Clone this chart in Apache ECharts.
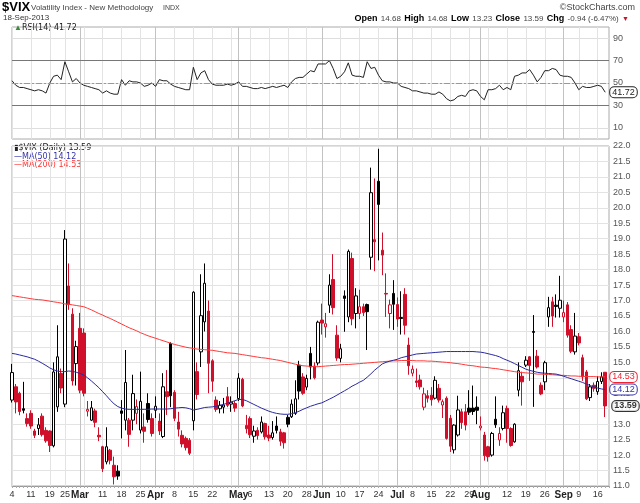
<!DOCTYPE html>
<html><head><meta charset="utf-8">
<script src="https://cdn.jsdelivr.net/npm/echarts@6/dist/echarts.min.js"></script>
<style>html,body{margin:0;padding:0;background:#fff}#c{width:640px;height:503px}</style>
</head><body><div id="c"></div>
<script>
const dates = [
'2013-02-04','2013-02-05','2013-02-06','2013-02-07','2013-02-08','2013-02-11','2013-02-12','2013-02-13','2013-02-14','2013-02-15','2013-02-19','2013-02-20','2013-02-21','2013-02-22','2013-02-25','2013-02-26','2013-02-27','2013-02-28',
'2013-03-01','2013-03-04','2013-03-05','2013-03-06','2013-03-07','2013-03-08','2013-03-11','2013-03-12','2013-03-13','2013-03-14','2013-03-15','2013-03-18','2013-03-19','2013-03-20','2013-03-21','2013-03-22','2013-03-25','2013-03-26','2013-03-27','2013-03-28',
'2013-04-01','2013-04-02','2013-04-03','2013-04-04','2013-04-05','2013-04-08','2013-04-09','2013-04-10','2013-04-11','2013-04-12','2013-04-15','2013-04-16','2013-04-17','2013-04-18','2013-04-19','2013-04-22','2013-04-23','2013-04-24','2013-04-25','2013-04-26','2013-04-29','2013-04-30',
'2013-05-01','2013-05-02','2013-05-03','2013-05-06','2013-05-07','2013-05-08','2013-05-09','2013-05-10','2013-05-13','2013-05-14','2013-05-15','2013-05-16','2013-05-17','2013-05-20','2013-05-21','2013-05-22','2013-05-23','2013-05-24','2013-05-28','2013-05-29','2013-05-30','2013-05-31',
'2013-06-03','2013-06-04','2013-06-05','2013-06-06','2013-06-07','2013-06-10','2013-06-11','2013-06-12','2013-06-13','2013-06-14','2013-06-17','2013-06-18','2013-06-19','2013-06-20','2013-06-21','2013-06-24','2013-06-25','2013-06-26','2013-06-27','2013-06-28',
'2013-07-01','2013-07-02','2013-07-03','2013-07-05','2013-07-08','2013-07-09','2013-07-10','2013-07-11','2013-07-12','2013-07-15','2013-07-16','2013-07-17','2013-07-18','2013-07-19','2013-07-22','2013-07-23','2013-07-24','2013-07-25','2013-07-26','2013-07-29','2013-07-30','2013-07-31',
'2013-08-01','2013-08-02','2013-08-05','2013-08-06','2013-08-07','2013-08-08','2013-08-09','2013-08-12','2013-08-13','2013-08-14','2013-08-15','2013-08-16','2013-08-19','2013-08-20','2013-08-21','2013-08-22','2013-08-23','2013-08-26','2013-08-27','2013-08-28','2013-08-29','2013-08-30',
'2013-09-03','2013-09-04','2013-09-05','2013-09-06','2013-09-09','2013-09-10','2013-09-11','2013-09-12','2013-09-13','2013-09-16','2013-09-17','2013-09-18'];

// [open, close, low, high]
const ohlc = [
[13.78,14.67,13.70,14.95],[14.21,13.72,13.35,14.30],[14.00,13.41,13.29,14.05],[13.50,13.45,13.35,14.37],[13.18,13.02,12.92,13.35],
[13.35,12.94,12.85,13.45],[12.78,12.64,12.55,12.85],[12.86,12.98,12.65,13.20],[13.26,12.66,12.60,13.35],[12.80,12.46,12.40,12.90],
[12.78,12.31,12.10,12.80],[12.30,14.69,12.25,15.00],[13.56,15.18,13.40,16.20],[14.64,14.17,14.00,14.80],[13.65,18.99,13.55,19.28],
[17.47,16.87,16.70,18.20],[16.56,14.40,14.25,16.75],[14.96,15.51,14.25,15.70],[16.10,14.10,14.00,16.60],[15.95,14.00,13.90,16.10],
[13.42,13.48,13.25,13.75],[13.13,13.53,13.10,13.75],[13.43,13.06,12.90,13.50],[12.64,12.59,12.45,12.90],[12.27,11.56,11.45,12.30],
[11.78,12.27,11.70,12.90],[12.16,11.83,11.70,12.20],[11.67,11.30,11.05,11.95],[11.48,11.32,11.20,11.67],[13.43,13.35,12.54,13.78],
[13.13,14.35,12.80,15.40],[13.13,12.67,12.27,13.20],[13.13,13.99,12.80,14.60],[13.35,13.57,13.00,13.80],[12.81,13.74,12.70,14.70],
[12.91,12.77,12.40,13.35],[13.67,13.15,13.05,14.00],[13.18,12.70,12.60,13.35],[13.45,13.58,13.20,13.90],[13.10,12.78,12.65,13.35],
[12.60,14.21,12.55,14.65],[14.05,13.89,13.30,14.75],[15.61,13.92,13.55,15.65],[14.03,13.19,13.10,14.10],[13.07,12.84,12.60,13.40],
[12.64,12.36,12.25,12.80],[12.54,12.24,12.15,12.60],[12.48,12.06,12.00,12.55],[13.11,17.27,12.80,17.30],[14.70,13.96,13.80,15.00],
[15.34,16.51,14.85,17.85],[16.31,17.56,16.00,18.20],[16.66,14.97,14.00,17.00],[15.05,14.39,14.05,15.10],[13.78,13.48,13.40,13.90],
[13.50,13.61,13.35,13.75],[13.55,13.62,13.35,13.85],[13.89,13.61,13.55,14.20],[13.65,13.71,13.40,13.90],[13.67,13.52,13.40,13.75],
[13.83,14.49,13.75,14.65],[14.45,13.59,13.55,14.50],[12.96,12.85,12.70,13.30],[13.18,12.66,12.55,13.25],[12.61,12.78,12.40,12.95],
[12.80,12.63,12.50,12.90],[12.75,13.07,12.70,13.25],[13.02,12.59,12.50,13.05],[12.65,12.55,12.45,12.95],[12.57,12.72,12.50,13.10],
[12.94,12.80,12.70,13.25],[12.75,12.45,12.30,12.85],[12.72,12.40,12.21,12.75],[13.22,13.00,12.90,13.30],[13.24,13.65,13.20,13.80],
[13.35,13.82,13.30,14.42],[14.91,14.07,13.80,15.05],[14.53,14.00,13.95,14.65],[14.20,14.48,14.10,14.60],[15.29,14.85,14.45,15.50],
[14.88,14.50,14.45,15.00],[14.98,16.30,14.90,16.35],[16.37,16.27,15.90,16.90],[16.15,16.25,15.80,16.60],[16.85,17.50,16.60,17.85],
[17.68,16.77,16.55,18.50],[15.88,15.14,15.05,16.20],[15.13,15.44,15.00,15.60],[17.15,17.07,15.99,17.33],[16.47,18.59,16.30,18.65],
[18.36,16.41,16.20,18.55],[16.58,17.15,16.10,17.40],[16.58,16.80,16.40,17.35],[16.80,16.61,16.50,16.90],[16.87,16.64,15.40,16.90],
[18.40,20.49,18.00,21.30],[18.97,18.90,17.95,20.95],[20.86,20.11,18.30,21.91],[18.63,18.47,17.82,19.20],[17.23,17.21,16.47,17.88],
[16.58,16.86,16.10,17.03],[17.23,16.88,16.05,17.66],[16.87,16.40,16.15,17.10],[16.45,16.42,15.90,17.30],[17.20,16.20,15.90,17.40],
[15.56,14.89,14.60,15.80],[14.65,14.78,14.55,14.90],[14.40,14.35,14.20,14.80],[14.43,14.21,14.12,14.60],[13.55,13.98,13.45,14.18],
[13.92,13.84,13.70,14.10],[13.94,13.79,13.60,14.20],[13.84,14.42,13.80,14.55],[14.16,13.78,13.70,14.30],[13.62,13.73,13.20,13.80],
[13.84,12.54,12.50,13.90],[13.19,12.29,12.10,13.30],[12.17,12.97,12.05,13.00],[12.65,13.46,12.60,13.92],[13.40,13.05,12.85,13.50],
[13.40,12.97,12.80,13.65],[13.52,13.39,13.30,14.10],[13.52,13.41,13.30,14.25],[13.55,13.45,13.00,13.90],[12.88,12.94,12.80,13.25],
[12.65,11.98,11.82,12.75],[12.27,11.95,11.79,12.30],[12.00,12.70,11.95,12.75],[13.16,12.98,12.88,13.90],[12.49,12.70,12.30,12.90],
[12.86,13.37,12.80,13.60],[13.51,12.86,12.40,13.60],[12.86,12.31,12.27,12.90],[12.43,13.00,12.40,13.03],[14.10,14.73,13.90,15.00],
[14.55,14.37,13.60,14.70],[14.91,15.07,14.85,15.20],[15.18,14.90,14.40,15.20],[16.00,15.97,13.56,16.53],[15.20,14.85,14.80,15.40],
[14.26,13.98,13.94,14.35],[14.37,14.99,14.10,15.05],[16.47,16.77,16.15,17.12],[16.96,16.50,16.15,17.12],[16.85,16.81,16.45,17.20],
[16.75,17.01,16.45,17.80],[16.47,16.61,16.30,17.00],[16.86,15.88,15.80,16.95],[16.06,15.36,15.30,16.20],[15.34,15.85,15.25,16.60],
[15.83,15.63,15.55,15.95],[15.15,14.53,14.40,15.25],[14.69,13.82,13.78,14.75],[13.86,14.21,13.75,14.30],[14.26,14.16,14.05,14.35],
[14.05,14.38,13.95,14.55],[14.38,14.53,14.30,14.68],[14.68,13.59,13.23,14.68]];
const prevCloseBefore = 12.90;

const ma50 = [
15.29,15.27,15.24,15.21,15.18,15.14,15.10,15.04,14.97,14.90,
14.82,14.76,14.72,14.70,14.70,14.72,14.71,14.68,14.64,14.59,
14.50,14.40,14.29,14.18,14.05,13.92,13.78,13.66,13.57,13.52,
13.49,13.48,13.48,13.48,13.48,13.48,13.48,13.49,13.49,13.49,
13.49,13.49,13.50,13.52,13.53,13.54,13.53,13.50,13.46,13.48,
13.51,13.54,13.55,13.56,13.58,13.61,13.64,13.68,13.72,13.76,
13.80,13.80,13.76,13.70,13.64,13.58,13.52,13.47,13.42,13.38,
13.35,13.33,13.32,13.32,13.34,13.37,13.42,13.48,13.53,13.58,
13.62,13.66,13.69,13.75,13.81,13.87,13.94,14.01,14.08,14.15,
14.23,14.29,14.36,14.42,14.52,14.63,14.75,14.85,14.95,15.00,
15.04,15.07,15.10,15.15,15.18,15.21,15.24,15.27,15.28,15.29,
15.30,15.31,15.32,15.33,15.34,15.35,15.35,15.35,15.35,15.35,
15.35,15.35,15.35,15.34,15.33,15.31,15.28,15.25,15.22,15.18,
15.12,15.07,15.02,14.96,14.90,14.84,14.78,14.74,14.71,14.68,
14.66,14.65,14.64,14.63,14.62,14.59,14.55,14.51,14.47,14.43,
14.39,14.35,14.30,14.25,14.21,14.17,14.14,14.12];

const ma200 = [
17.16,17.14,17.12,17.10,17.08,17.06,17.04,17.03,17.02,17.00,
16.98,16.96,16.94,16.92,16.89,16.88,16.86,16.84,16.82,16.80,
16.75,16.70,16.64,16.58,16.53,16.47,16.42,16.36,16.30,16.24,
16.18,16.12,16.07,16.02,15.96,15.91,15.86,15.82,15.78,15.74,
15.70,15.66,15.62,15.58,15.55,15.52,15.49,15.47,15.45,15.43,
15.42,15.41,15.40,15.39,15.37,15.35,15.33,15.31,15.30,15.29,
15.27,15.25,15.23,15.21,15.19,15.17,15.15,15.14,15.12,15.10,
15.08,15.06,15.03,15.00,14.97,14.94,14.91,14.89,14.88,14.87,
14.86,14.86,14.87,14.88,14.89,14.90,14.91,14.92,14.93,14.93,
14.94,14.95,14.96,14.97,14.98,14.99,15.00,15.01,15.02,15.03,
15.04,15.05,15.05,15.06,15.06,15.06,15.06,15.05,15.05,15.05,
15.04,15.04,15.03,15.02,15.01,15.00,14.99,14.97,14.96,14.94,
14.92,14.90,14.89,14.87,14.85,14.84,14.83,14.81,14.80,14.78,
14.76,14.74,14.72,14.70,14.68,14.67,14.66,14.65,14.64,14.62,
14.62,14.61,14.61,14.60,14.59,14.58,14.58,14.57,14.56,14.56,
14.55,14.55,14.54,14.54,14.54,14.53,14.53,14.53];

const rsi = [
52,48,46,46,45,44,43,44,43,41,
50,56,57,53,69,60,51,54,50,48,
47,46,45,44,41,43,41,40,40,53,
48,52,51,51,50,47,48,50,47,53,
52,52,49,47,46,45,44,44,64,53,
59,61,53,49,48,48,48,49,48,49,
51,47,47,46,45,45,46,45,46,47,
46,47,48,46,51,54,55,55,58,61,
60,67,67,67,70,63,54,56,60,68,
57,56,56,55,69,63,64,57,52,51,
51,50,50,47,46,45,43,43,42,41,
41,40,40,42,40,36,34,35,38,39,
38,43,44,43,38,35,44,44,45,48,
44,46,44,56,57,59,59,62,57,51,
55,61,61,63,62,57,56,56,55,50,
44,47,46,46,47,48,47,41.72];

const rsiBands = [70, 30];
const rsiMid = 50;

// [date, label] (blank label = grid line only)
const ticks = [
['2013-02-04','4'],['2013-02-11','11'],['2013-02-19','19'],['2013-02-25','25'],['2013-03-01','Mar'],['2013-03-04',''],
['2013-03-11','11'],['2013-03-18','18'],['2013-03-25','25'],['2013-04-01','Apr'],['2013-04-08','8'],['2013-04-15','15'],
['2013-04-22','22'],['2013-04-29',''],['2013-05-01','May'],['2013-05-06','6'],['2013-05-13','13'],['2013-05-20','20'],
['2013-05-28','28'],['2013-06-03','Jun'],['2013-06-10','10'],['2013-06-17','17'],['2013-06-24','24'],['2013-07-01','Jul'],
['2013-07-08','8'],['2013-07-15','15'],['2013-07-22','22'],['2013-07-29','29'],['2013-08-01','Aug'],['2013-08-05',''],
['2013-08-12','12'],['2013-08-19','19'],['2013-08-26','26'],['2013-09-03','Sep'],['2013-09-09','9'],['2013-09-16','16']];

const FF = "'Liberation Sans', Arial, sans-serif";
const N = dates.length;
const tickMap = {};
ticks.forEach(t => { tickMap[t[0]] = t[1]; });
const isTick = (idx, val) => Object.prototype.hasOwnProperty.call(tickMap, val);
const isMonth = s => /^[A-Z]/.test(s);
const vColors = ticks.map(t => isMonth(t[1]) ? '#c2c2c2' : '#e3e3e3');

const RED = '#d0102a', BLK = '#000';
const candles = ohlc.map((d, i) => {
  const [o, c, l, h] = d;
  const prev = i > 0 ? ohlc[i - 1][1] : prevCloseBefore;
  const col = c >= prev ? BLK : RED;
  const fill = c >= o ? '#ffffff' : col;
  return { value: [o, c, l, h], itemStyle: { color: fill, color0: fill, borderColor: col, borderColor0: col, borderWidth: 1 } };
});

const last = ohlc[N - 1];
const prevC = ohlc[N - 2][1];
const chg = last[1] - prevC;
const pct = chg / prevC * 100;
const f2 = v => v.toFixed(2);

const boxLabel = (txt, color, bold) => ({
  show: true, formatter: txt, color: color, fontSize: 9, fontFamily: FF, fontWeight: bold ? 'bold' : 'normal',
  backgroundColor: '#fff', borderColor: color, borderWidth: 1, borderRadius: 4, padding: [1, 2, 0, 2], distance: 5
});

const chart = echarts.init(document.getElementById('c'));
chart.setOption({
  animation: false,
  backgroundColor: '#fff',
  grid: [
    { left: 12, right: 31, top: 27, height: 112, show: true, borderColor: '#aaa', borderWidth: 1 },
    { left: 12, right: 31, top: 146, bottom: 17, show: true, borderColor: '#aaa', borderWidth: 1 }
  ],
  xAxis: [0, 1].map(k => ({
    type: 'category', gridIndex: k, data: dates, boundaryGap: false, max: N,
    axisLine: { show: k === 1, lineStyle: { color: '#999' } },
    axisTick: { show: k === 1, interval: 0, length: 2, lineStyle: { color: '#aaa' } },
    axisLabel: {
      show: k === 1, interval: isTick, fontSize: 9, color: '#333', fontFamily: FF, margin: 4,
      formatter: v => { const t = tickMap[v] || ''; return isMonth(t) ? '{m|' + t + '}' : t; },
      rich: { m: { fontWeight: 'bold', fontSize: 10, color: '#222', fontFamily: FF } }
    },
    splitLine: { show: true, interval: isTick, lineStyle: { color: vColors, width: 1 } }
  })),
  yAxis: [
    { type: 'value', gridIndex: 0, position: 'right', min: 0, max: 100, interval: 10,
      axisLine: { show: false }, axisTick: { show: false },
      axisLabel: { fontSize: 9, color: '#555', fontFamily: FF, margin: 4, formatter: v => (v % 20 === 10 ? String(v) : '') },
      splitLine: { lineStyle: { color: ['rgba(0,0,0,0)', '#dedede'] } } },
    { type: 'value', gridIndex: 1, position: 'right', min: 11, max: 22, interval: 0.5,
      axisLine: { show: false }, axisTick: { show: false },
      axisLabel: { fontSize: 9, color: '#555', fontFamily: FF, margin: 4, formatter: v => v.toFixed(1) },
      splitLine: { lineStyle: { color: '#e3e3e3' } } }
  ],
  series: [
    { type: 'line', name: 'RSI', xAxisIndex: 0, yAxisIndex: 0, data: rsi, showSymbol: false, silent: true,
      lineStyle: { color: '#222', width: 1 }, z: 4,
      endLabel: boxLabel(f2(rsi[N - 1]), '#222', false),
      markLine: { silent: true, symbol: 'none', label: { show: false },
        data: rsiBands.map(v => ({ yAxis: v, lineStyle: { color: '#777', width: 1, type: 'solid' } }))
          .concat([{ yAxis: rsiMid, lineStyle: { color: '#999', width: 1, type: [6, 2, 2, 2] } }]) } },
    { type: 'candlestick', xAxisIndex: 1, yAxisIndex: 1, data: candles, barWidth: 3, silent: true, z: 2 },
    { type: 'line', name: 'MA(200)', xAxisIndex: 1, yAxisIndex: 1, data: ma200, showSymbol: false, silent: true,
      lineStyle: { color: '#ff3a3a', width: 1 }, z: 3, endLabel: boxLabel(f2(ma200[N - 1]), '#e23', false) },
    { type: 'line', name: 'MA(50)', xAxisIndex: 1, yAxisIndex: 1, data: ma50, showSymbol: false, silent: true,
      lineStyle: { color: '#2a2aa0', width: 1 }, z: 3, endLabel: boxLabel(f2(ma50[N - 1]), '#33a', false) },
    { type: 'scatter', xAxisIndex: 1, yAxisIndex: 1, data: [[N - 1, last[1]]], symbolSize: 0, silent: true, z: 5,
      label: Object.assign(boxLabel(f2(last[1]), '#000', true), { position: 'right', distance: 7 }) }
  ],
  graphic: [
    { type: 'text', left: 2, top: 1, style: { text: '$VIX', font: 'bold 13px ' + FF, fill: '#000' } },
    { type: 'text', left: 31, top: 4, style: { text: 'Volatility Index - New Methodology', font: '8px ' + FF, fill: '#444' } },
    { type: 'text', left: 163, top: 5, style: { text: 'INDX', font: '7px ' + FF, fill: '#444' } },
    { type: 'text', left: 3, top: 14, style: { text: '18-Sep-2013', font: '8px ' + FF, fill: '#333' } },
    { type: 'text', right: 5, top: 3, style: { text: '\u00a9StockCharts.com', font: '9px ' + FF, fill: '#444' } },
    { type: 'text', right: 11, top: 13, style: {
        text: '{b|Open} {n|' + f2(last[0]) + '} {b|High} {n|' + f2(last[3]) + '} {b|Low} {n|' + f2(last[2]) +
              '} {b|Close} {n|' + f2(last[1]) + '} {b|Chg} {n|' + f2(chg) + ' (' + f2(pct) + '%)} {r|\u25BC}',
        rich: { b: { font: 'bold 9px ' + FF, fill: '#000' }, n: { font: '8px ' + FF, fill: '#444' }, r: { font: '7px ' + FF, fill: RED } } } },
    { type: 'text', left: 14, top: 24, style: {
        text: '{i|\u25B2}RSI(14) ' + f2(rsi[N - 1]),
        rich: { i: { font: '8px ' + FF, fill: '#3a8a3a' } }, font: "8px 'DejaVu Sans', sans-serif", fill: '#222' } },
    { type: 'text', left: 14, top: 144, style: { text: '\u25AE$VIX (Daily) ' + f2(last[1]), font: "8px 'DejaVu Sans', sans-serif", fill: '#222' } },
    { type: 'text', left: 14, top: 153, style: { text: '\u2014MA(50) ' + f2(ma50[N - 1]), font: "8px 'DejaVu Sans', sans-serif", fill: '#33a' } },
    { type: 'text', left: 14, top: 161, style: { text: '\u2014MA(200) ' + f2(ma200[N - 1]), font: "8px 'DejaVu Sans', sans-serif", fill: '#f33' } }
  ]
});
</script>
</body></html>
